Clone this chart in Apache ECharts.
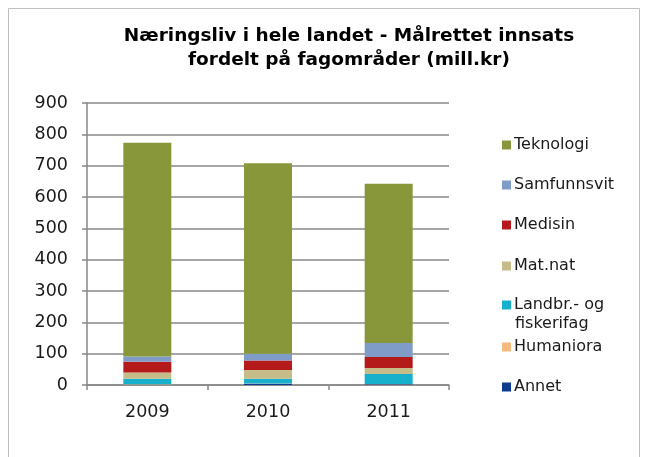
<!DOCTYPE html>
<html><head><meta charset="utf-8">
<script src="https://cdn.jsdelivr.net/npm/echarts@6/dist/echarts.min.js"></script>
<style>html,body{margin:0;padding:0;background:#fff}#c{width:647px;height:457px}</style>
</head><body><div id="c"></div>
<script>
const categories = ['2009', '2010', '2011'];
const annet = [1, 4, 2];
const humaniora = [1, 1, 1];
const landbr = [18, 15, 32];
const matnat = [20, 28, 19];
const medisin = [34, 30, 35];
const samfunnsvit = [17, 22, 45];
const teknologi = [682, 608, 508];
const yTicks = [0, 100, 200, 300, 400, 500, 600, 700, 800, 900];

const seriesDefs = [
  ['Annet', annet, '#0E3D8F'],
  ['Humaniora', humaniora, '#F4B97F'],
  ['Landbr.- og fiskerifag', landbr, '#16B0CC'],
  ['Mat.nat', matnat, '#C5BC8A'],
  ['Medisin', medisin, '#B41A1A'],
  ['Samfunnsvit', samfunnsvit, '#7F9BC8'],
  ['Teknologi', teknologi, '#88973A']
];
const legendTops = {'Teknologi':130,'Samfunnsvit':170,'Medisin':210,'Mat.nat':251,'Landbr.- og fiskerifag':290,'Humaniora':332,'Annet':372};
const font = 'DejaVu Sans, Verdana, sans-serif';
const chart = echarts.init(document.getElementById('c'), null, {renderer:'canvas'});
chart.setOption({
  animation: false,
  title: {
    text: 'Næringsliv i hele landet - Målrettet innsats\nfordelt på fagområder (mill.kr)',
    left: 344, top: 19, textAlign: 'center',
    textStyle: {fontFamily: font, fontWeight: 'bold', fontSize: 18.5, color: '#000', lineHeight: 24}
  },
  graphic: [
    {type:'rect', shape:{x:8.5,y:8.5,width:631,height:470}, style:{fill:'none', stroke:'#bdbdbd', lineWidth:1}, silent:true},
    {type:'text', left: 515, top: 316, style:{text:'fiskerifag', font: '16px ' + font, fill:'#1a1a1a'}, silent:true}
  ],
  legend: seriesDefs.map(d => ({
    data: [d[0]], orient: 'vertical', left: 497, top: legendTops[d[0]],
    itemWidth: 9, itemHeight: 9, itemGap: 0, icon: 'rect',
    formatter: n => n === 'Landbr.- og fiskerifag' ? 'Landbr.- og' : n,
    textStyle: {fontFamily: font, fontSize: 16, color: '#1a1a1a', lineHeight: 20, padding:[0,0,0,-2]}
  })),
  grid: {left: 87, right: 198, top: 103, bottom: 72},
  xAxis: {
    type: 'category', data: categories,
    axisLine: {lineStyle: {color: '#888', width: 1.5}},
    axisTick: {show: true, length: 5, lineStyle: {color: '#888', width: 1.5}},
    axisLabel: {fontFamily: font, fontSize: 17.5, color: '#1a1a1a', margin: 18}
  },
  yAxis: {
    type: 'value', min: 0, max: 900, interval: 100,
    axisLine: {show: true, lineStyle: {color: '#888', width: 1.5}},
    axisTick: {show: true, length: 5, lineStyle: {color: '#888', width: 1.5}},
    splitLine: {lineStyle: {color: '#888', width: 1.5}},
    axisLabel: {fontFamily: font, fontSize: 17.5, color: '#1a1a1a', margin: 19,
      formatter: v => yTicks.includes(v) ? String(v) : ''}
  },
  series: seriesDefs.map(d => ({
    name: d[0], type: 'bar', stack: 'a', data: d[1], barWidth: 48,
    itemStyle: {color: d[2]}
  }))
});
</script></body></html>
